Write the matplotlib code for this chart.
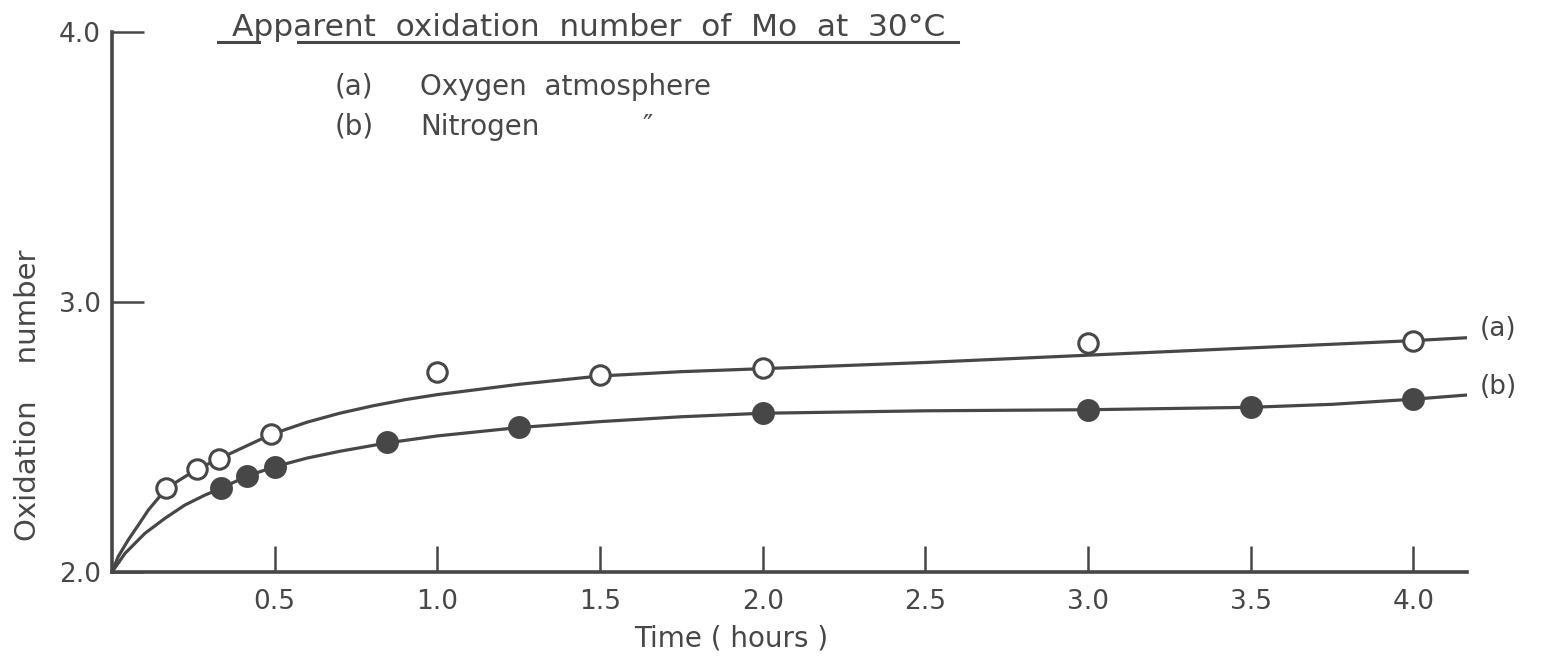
import matplotlib
matplotlib.use("Agg")
import matplotlib.pyplot as plt
from matplotlib.lines import Line2D

INK = "#474747"

# measured points, time in hours
t_oxygen = [0.167, 0.26, 0.33, 0.49, 1.0, 1.5, 2.0, 3.0, 4.0]
ox_oxygen = [2.31, 2.38, 2.42, 2.51, 2.74, 2.73, 2.755, 2.85, 2.857]

t_nitrogen = [0.335, 0.415, 0.50, 0.845, 1.25, 2.0, 3.0, 3.5, 4.0]
ox_nitrogen = [2.31, 2.355, 2.39, 2.48, 2.538, 2.59, 2.60, 2.61, 2.64]

# hand-drawn curves
curve_a_t = [0.0, 0.019, 0.05, 0.081, 0.112, 0.142, 0.167, 0.26, 0.33, 0.49,
             0.6, 0.7, 0.8, 0.9, 1.0, 1.25, 1.5, 1.75, 2.0, 2.5, 3.0, 3.5,
             4.0, 4.17]
curve_a_y = [2.0, 2.057, 2.119, 2.174, 2.23, 2.273, 2.31, 2.38, 2.42, 2.51,
             2.555, 2.588, 2.615, 2.638, 2.657, 2.695, 2.726, 2.742, 2.753,
             2.776, 2.803, 2.83, 2.857, 2.868]

curve_b_t = [0.0, 0.04, 0.101, 0.163, 0.224, 0.286, 0.335, 0.415, 0.50, 0.60,
             0.7, 0.845, 1.0, 1.25, 1.5, 1.75, 2.0, 2.5, 3.0, 3.5, 3.75, 4.0,
             4.17]
curve_b_y = [2.0, 2.069, 2.143, 2.199, 2.248, 2.285, 2.31, 2.355, 2.39, 2.422,
             2.447, 2.478, 2.504, 2.535, 2.557, 2.575, 2.588, 2.597, 2.601,
             2.61, 2.621, 2.64, 2.656]

xticks = [0.5, 1.0, 1.5, 2.0, 2.5, 3.0, 3.5, 4.0]
yticks = [2.0, 3.0, 4.0]

W, H = 1545, 665
fig = plt.figure(figsize=(W / 100, H / 100), dpi=100)
ax = fig.add_axes([112 / W, 93 / H, (1467 - 112) / W, 540 / H])

ax.plot(curve_a_t, curve_a_y, color=INK, lw=2.3, zorder=2, solid_joinstyle="round")
ax.plot(curve_b_t, curve_b_y, color=INK, lw=2.3, zorder=2, solid_joinstyle="round")
ax.plot(t_oxygen, ox_oxygen, "o", ms=14, mfc="white", mec=INK, mew=2.2, zorder=3)
ax.plot(t_nitrogen, ox_nitrogen, "o", ms=15, mfc=INK, mec=INK, mew=1.5, zorder=3)

ax.set_xlim(0, 4.165)
ax.set_ylim(2.0, 4.0)
for s in ("top", "right"):
    ax.spines[s].set_visible(False)
for s in ("left", "bottom"):
    ax.spines[s].set_linewidth(2.6)
    ax.spines[s].set_color(INK)

ax.set_xticks(xticks)
ax.set_xticklabels([f"{v:.1f}" for v in xticks])
ax.set_yticks(yticks)
ax.set_yticklabels([f"{v:.1f}" for v in yticks])
ax.tick_params(axis="x", direction="in", length=19, width=1.8, pad=12,
               labelsize=19, colors=INK)
ax.tick_params(axis="y", direction="in", length=23, width=1.8, pad=8,
               labelsize=19, colors=INK)

# curve labels at the right end
ax.text(4.205, 2.90, "(a)", va="center", ha="left", fontsize=19, color=INK)
ax.text(4.205, 2.685, "(b)", va="center", ha="left", fontsize=19, color=INK)

# title with hand underline (broken under the descenders)
fig.text(232 / W, 1 - 27 / H, "Apparent  oxidation  number  of  Mo  at  30°C",
         ha="left", va="center", fontsize=22.5, color=INK)
yl = 1 - 42 / H
fig.add_artist(Line2D([218 / W, 259 / W], [yl, yl], color=INK, lw=2.2))
fig.add_artist(Line2D([298 / W, 958 / W], [yl, yl], color=INK, lw=2.2))

# key
fig.text(335 / W, 1 - 87 / H, "(a)", ha="left", va="center", fontsize=20, color=INK)
fig.text(420 / W, 1 - 87 / H, "Oxygen  atmosphere", ha="left", va="center",
         fontsize=20, color=INK)
fig.text(335 / W, 1 - 127 / H, "(b)", ha="left", va="center", fontsize=20, color=INK)
fig.text(420 / W, 1 - 127 / H, "Nitrogen", ha="left", va="center",
         fontsize=20, color=INK)
fig.text(648 / W, 1 - 127 / H, "\u2033", ha="center", va="center",
         fontsize=20, color=INK)

fig.text(28 / W, 1 - 395 / H, "Oxidation    number", rotation=90,
         ha="center", va="center", fontsize=21, color=INK)
fig.text(731 / W, 1 - 638 / H, "Time ( hours )", ha="center", va="center",
         fontsize=20, color=INK)

fig.savefig("out.png", dpi=100, facecolor="white")
